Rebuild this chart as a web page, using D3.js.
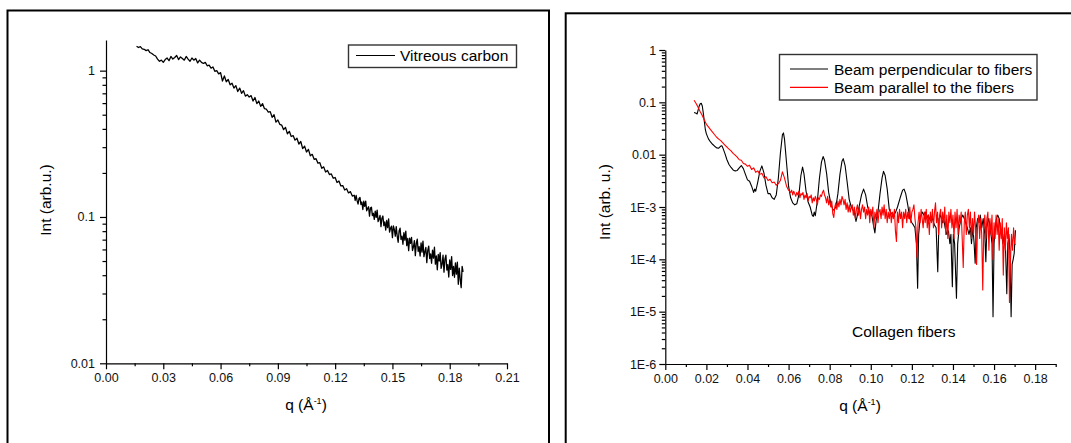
<!DOCTYPE html>
<html>
<head>
<meta charset="utf-8">
<script src="https://cdn.jsdelivr.net/npm/d3@7"></script>
<style>
  body { margin: 0; background: #fff; }
  svg { display: block; font-family: "Liberation Sans", Arial, sans-serif; }
</style>
</head>
<body>
<div id="chart"></div>
<script>
// ---- data: [q (1/A), intensity (arb. u.)] ----
const vitreousCarbon = [
  [0.016,1.47],[0.017,1.44],[0.018,1.46],[0.019,1.41],[0.020,1.40],[0.021,1.37],[0.022,1.39],[0.023,1.33],[0.024,1.31],[0.025,1.28],
  [0.026,1.26],[0.027,1.20],[0.028,1.16],[0.029,1.18],[0.030,1.14],[0.031,1.19],[0.032,1.22],[0.033,1.17],[0.034,1.25],[0.035,1.20],
  [0.036,1.23],[0.037,1.27],[0.038,1.19],[0.039,1.24],[0.040,1.21],[0.041,1.18],[0.042,1.25],[0.043,1.20],[0.044,1.16],[0.045,1.22],
  [0.046,1.18],[0.047,1.21],[0.048,1.13],[0.049,1.18],[0.050,1.14],[0.051,1.12],[0.052,1.14],[0.053,1.08],[0.054,1.09],[0.055,1.04],
  [0.056,1.06],[0.057,0.99],[0.058,1.00],[0.059,0.95],[0.060,0.97],[0.061,0.85],[0.062,0.92],[0.063,0.84],[0.064,0.87],[0.065,0.80],
  [0.066,0.82],[0.067,0.76],[0.068,0.79],[0.069,0.72],[0.070,0.76],[0.071,0.70],[0.072,0.73],[0.073,0.67],[0.074,0.685],[0.075,0.66],
  [0.076,0.675],[0.077,0.62],[0.078,0.655],[0.079,0.595],[0.080,0.62],[0.081,0.57],[0.082,0.595],[0.083,0.55],[0.084,0.545],[0.085,0.52],
  [0.086,0.525],[0.087,0.48],[0.088,0.50],[0.089,0.445],[0.090,0.46],[0.091,0.43],[0.092,0.425],[0.093,0.395],[0.094,0.41],[0.095,0.37],
  [0.096,0.385],[0.097,0.355],[0.098,0.36],[0.099,0.335],[0.100,0.345],[0.101,0.315],[0.102,0.328],[0.103,0.293],[0.104,0.305],[0.105,0.278],
  [0.106,0.29],[0.107,0.262],[0.108,0.268],[0.109,0.248],[0.110,0.25],[0.111,0.233],[0.112,0.235],[0.113,0.215],[0.114,0.22],[0.115,0.203],
  [0.116,0.208],[0.117,0.195],[0.118,0.197],[0.119,0.184],[0.120,0.186],[0.121,0.172],[0.122,0.176],[0.123,0.163],[0.124,0.164],[0.125,0.153],
  [0.126,0.156],[0.127,0.146],[0.128,0.149],[0.129,0.139],
  [0.1300,0.1408],[0.1305,0.1296],[0.1310,0.1402],[0.1315,0.1292],[0.1320,0.1224],[0.1325,0.1339],[0.1330,0.1361],[0.1335,0.1217],[0.1340,0.1265],[0.1345,0.1125],
  [0.1350,0.1281],[0.1355,0.1180],[0.1360,0.1283],[0.1365,0.1102],[0.1370,0.1144],[0.1375,0.1174],[0.1380,0.1012],[0.1385,0.1152],[0.1390,0.1168],[0.1395,0.1022],
  [0.1400,0.1060],[0.1405,0.0964],[0.1410,0.1098],[0.1415,0.0993],[0.1420,0.1113],[0.1425,0.0930],[0.1430,0.0968],[0.1435,0.1025],[0.1440,0.0858],[0.1445,0.0981],
  [0.1450,0.1015],[0.1455,0.0872],[0.1460,0.0925],[0.1465,0.0814],[0.1470,0.0946],[0.1475,0.0845],[0.1480,0.0972],[0.1485,0.0788],[0.1490,0.0836],[0.1495,0.0865],
  [0.1500,0.0722],[0.1505,0.0869],[0.1510,0.0820],[0.1515,0.0740],[0.1520,0.0859],[0.1525,0.0741],[0.1530,0.0672],[0.1535,0.0802],[0.1540,0.0839],[0.1545,0.0703],
  [0.1550,0.0740],[0.1555,0.0651],[0.1560,0.0782],[0.1565,0.0695],[0.1570,0.0800],[0.1575,0.0637],[0.1580,0.0713],[0.1585,0.0588],[0.1590,0.0717],[0.1595,0.0661],
  [0.1600,0.0726],[0.1605,0.0590],[0.1610,0.0624],[0.1615,0.0690],[0.1620,0.0544],[0.1625,0.0660],[0.1630,0.0706],[0.1635,0.0581],[0.1640,0.0626],[0.1645,0.0541],
  [0.1650,0.0665],[0.1655,0.0575],[0.1660,0.0684],[0.1665,0.0536],[0.1670,0.0578],[0.1675,0.0620],[0.1680,0.0487],[0.1685,0.0592],[0.1690,0.0633],[0.1695,0.0520],
  [0.1700,0.0560],[0.1705,0.0483],[0.1710,0.0594],[0.1715,0.0523],[0.1720,0.0621],[0.1725,0.0476],[0.1730,0.0541],[0.1735,0.0436],[0.1740,0.0556],[0.1745,0.0500],
  [0.1750,0.0571],[0.1755,0.0445],[0.1760,0.0477],[0.1765,0.0548],[0.1770,0.0420],[0.1775,0.0515],[0.1780,0.0549],[0.1785,0.0434],[0.1790,0.0473],[0.1795,0.0389],
  [0.1800,0.0508],[0.1805,0.0438],[0.1810,0.0536],[0.1815,0.0398],[0.1820,0.0459],[0.1825,0.0387],[0.1830,0.0486],[0.1835,0.0407],[0.1840,0.0491],[0.1845,0.0347],
  [0.1850,0.0447],[0.1855,0.0375],[0.1860,0.0329],[0.1865,0.0460],[0.1870,0.0422]
]

const beamPerpendicular = [
  [0.0140,0.064],[0.0150,0.062],[0.0155,0.060],[0.0160,0.072],[0.0165,0.085],[0.0170,0.094],[0.0175,0.096],[0.0180,0.085],[0.0185,0.062],[0.0190,0.043],
  [0.0195,0.030],[0.0200,0.025],[0.0210,0.020],[0.0220,0.0175],[0.0230,0.0158],[0.0240,0.0145],[0.0250,0.0135],[0.0260,0.0133],[0.0270,0.0146],[0.0275,0.0148],
  [0.0280,0.0135],[0.0290,0.0106],[0.0300,0.0080],[0.0310,0.0065],[0.0320,0.0057],[0.0330,0.0051],[0.0340,0.0049],[0.0350,0.0050],[0.0360,0.0056],[0.0370,0.0062],
  [0.0380,0.0054],[0.0390,0.0042],[0.0400,0.0033],[0.0410,0.0031],[0.0420,0.0025],[0.0430,0.0019],[0.0435,0.0022],[0.0440,0.0020],[0.0450,0.0030],[0.0460,0.0048],
  [0.0470,0.0061],[0.0480,0.0045],[0.0490,0.0026],[0.0500,0.0018],[0.0510,0.0018],[0.0520,0.0015],[0.0530,0.0014],[0.0540,0.0017],[0.0550,0.0035],[0.0560,0.0105],
  [0.0570,0.024],[0.0575,0.026],[0.0580,0.020],[0.0590,0.0070],[0.0600,0.0025],[0.0610,0.0015],[0.0620,0.0012],[0.0630,0.0011],[0.0640,0.00115],[0.0650,0.0017],
  [0.0660,0.0040],[0.0668,0.0058],[0.0675,0.0043],[0.0685,0.0020],[0.0695,0.00125],[0.0705,0.0010],[0.0715,0.0007],[0.0720,0.00066],[0.0725,0.0008],[0.0730,0.00068],
  [0.0740,0.0013],[0.0750,0.0035],[0.0760,0.0072],[0.0768,0.0092],[0.0775,0.0078],[0.0785,0.0044],[0.0795,0.0019],[0.0805,0.0012],[0.0815,0.0009],[0.0820,0.00087],
  [0.0830,0.0010],[0.0840,0.0018],[0.0850,0.0042],[0.0860,0.0075],[0.0866,0.0084],[0.0875,0.0062],[0.0885,0.0030],[0.0895,0.0014],[0.0905,0.0010],[0.0915,0.00085],
  [0.0920,0.0008],[0.0928,0.00053],[0.0935,0.0007],[0.0945,0.0011],[0.0955,0.0017],[0.0965,0.0022],[0.0975,0.0017],[0.0985,0.0010],[0.0995,0.00076],[0.1005,0.0007],
  [0.1013,0.00045],[0.1020,0.00032],[0.1027,0.0006],[0.1035,0.0008],[0.1045,0.0018],[0.1055,0.0036],[0.1062,0.0048],[0.1070,0.0040],[0.1080,0.0022],[0.1090,0.0009],
  [0.1100,0.00075],[0.1110,0.0007],[0.1120,0.00078],[0.1130,0.0010],[0.1143,0.0015],[0.1155,0.0021],[0.1162,0.0022],[0.1170,0.0018],[0.1180,0.0011],[0.1190,0.0006],
  [0.1200,0.0005],[0.1208,0.00045],[0.1215,0.0004],[0.1222,0.0002],[0.1228,0.000028],[0.1233,0.0003],[0.1240,0.0006],[0.1250,0.0008],[0.1258,0.0007],[0.1265,0.0008],
  [0.1272,0.0006],[0.1280,0.0007],[0.1290,0.00055],[0.1300,0.0006],[0.1310,0.00045],[0.1318,0.0004],[0.1326,0.000058],[0.1332,0.0006],[0.1340,0.0007],[0.1348,0.0005],
  [0.1355,0.0006],[0.1362,0.0004],[0.1370,0.0003],[0.1378,0.00035],[0.1385,0.0002],[0.1390,0.0003],[0.1397,0.00003],[0.1402,0.0003],[0.1408,0.0002],[0.1417,0.000018],
  [0.1423,0.0002],[0.1430,0.0004],[0.1440,0.0006],[0.1448,0.0007],[0.1455,0.0006],[0.1462,0.0005],[0.1470,0.0004],[0.1478,0.0003],[0.1485,0.0004],[0.1490,0.0002],
  [0.1497,0.0004],[0.1503,0.0002],[0.1508,0.000084],[0.1513,0.0004],[0.1520,0.0006],[0.1527,0.0005],[0.1533,0.0007],[0.1540,0.0004],[0.1547,0.0006],[0.1555,0.0003],
  [0.1560,0.00009],[0.1565,0.0004],[0.1572,0.0006],[0.1578,0.0005],[0.1585,0.0003],[0.1590,0.0002],[0.1595,0.000008],[0.1600,0.0002],[0.1605,0.0004],[0.1612,0.0006],
  [0.1618,0.0007],[0.1625,0.0006],[0.1630,0.0004],[0.1637,0.0003],[0.1643,0.0002],[0.1650,0.0003],[0.1656,0.00015],[0.1662,0.000022],[0.1667,0.0002],[0.1672,0.0003],
  [0.1677,0.00015],[0.1683,0.000008],[0.1688,0.00008],[0.1693,0.0001],[0.1698,0.00013],[0.1704,0.00036]
]

const beamParallel = [
  [0.014,0.110],[0.015,0.095],[0.016,0.080],[0.017,0.066],[0.018,0.056],[0.019,0.046],[0.020,0.038],[0.021,0.034],[0.022,0.030],[0.023,0.027],
  [0.024,0.024],[0.025,0.0215],[0.026,0.0198],[0.027,0.0185],[0.028,0.0168],[0.029,0.0152],[0.030,0.0140],[0.031,0.0128],[0.032,0.0118],[0.033,0.0106],
  [0.034,0.0098],[0.035,0.0090],[0.036,0.0080],[0.037,0.0078],[0.038,0.0068],[0.039,0.0066],[0.040,0.0060],[0.041,0.0063],[0.042,0.0052],[0.043,0.0056],
  [0.044,0.0046],[0.045,0.0049],[0.046,0.0042],[0.047,0.0044],[0.048,0.0036],[0.049,0.0038],[0.050,0.0032],[0.051,0.0034],[0.052,0.0029],[0.053,0.0030],
  [0.054,0.0026],[0.055,0.0028],[0.056,0.0032],[0.057,0.0047],[0.058,0.0036],[0.059,0.0025],[0.060,0.0021],
  [0.0605,0.0020],[0.0610,0.0019],[0.0615,0.0021],[0.0620,0.0017],[0.0625,0.0020],[0.0630,0.0018],[0.0635,0.0016],[0.0640,0.0019],[0.0645,0.0017],[0.0650,0.0020],
  [0.0655,0.0015],[0.0660,0.0018],[0.0665,0.0017],[0.0670,0.0019],[0.0675,0.0014],[0.0680,0.0017],[0.0685,0.0015],[0.0690,0.0018],[0.0695,0.0013],[0.0700,0.0016],
  [0.0705,0.0015],[0.0710,0.0017],[0.0715,0.0012],[0.0720,0.0015],[0.0725,0.0013],[0.0730,0.0016],[0.0735,0.0014],[0.0740,0.0011],[0.0745,0.0015],[0.0750,0.0014],
  [0.0755,0.0017],[0.0760,0.0016],[0.0765,0.0019],[0.0770,0.0021],[0.0775,0.0017],[0.0780,0.0015],[0.0785,0.0012],[0.0790,0.0016],[0.0795,0.0011],[0.0800,0.0014],
  [0.0805,0.0010],[0.0810,0.0013],[0.0815,0.00075],[0.0820,0.00063],[0.0825,0.0010],[0.0830,0.0012],[0.0835,0.0009],[0.0840,0.0013],[0.0845,0.0010],[0.0850,0.0014],
  [0.0855,0.0011],[0.0860,0.0016],[0.0865,0.0014],[0.0870,0.0011],[0.0875,0.0014],[0.0880,0.0009],[0.0885,0.0012],[0.0890,0.0008],[0.0895,0.0011],[0.0900,0.0008],
  [0.0905,0.0010],[0.0910,0.0011],[0.0915,0.0007],[0.0920,0.0010],[0.0925,0.0006],[0.0930,0.0009],[0.0935,0.0011],[0.0940,0.0007],[0.0945,0.0010],[0.0950,0.0006],
  [0.0955,0.0009],[0.0960,0.0011],[0.0965,0.0008],[0.0970,0.0010],[0.0975,0.0006],[0.0980,0.0009],[0.0985,0.0007],[0.0990,0.0010],[0.0995,0.0005],[0.1000,0.0009],
  [0.1005,0.0007],[0.1010,0.0010],[0.1015,0.0004],[0.1020,0.0008],[0.1025,0.0006],[0.1030,0.0009],[0.1035,0.0005],[0.1040,0.0008],[0.1045,0.0009],[0.1050,0.0006],
  [0.1055,0.0010],[0.1060,0.0007],[0.1065,0.0011],[0.1070,0.0006],[0.1075,0.0009],[0.1080,0.0005],[0.1085,0.0008],[0.1090,0.0006],[0.1095,0.0009],[0.1100,0.0005],
  [0.1105,0.0008],[0.1110,0.0006],[0.1115,0.0009],[0.1120,0.00035],[0.1125,0.00022],[0.1130,0.0008],[0.1135,0.0005],[0.1140,0.0009],[0.1145,0.0006],[0.1150,0.0008],
  [0.1155,0.0004],[0.1160,0.0008],[0.1165,0.0006],[0.1170,0.0009],[0.1175,0.0005],[0.1180,0.0008],[0.1185,0.0006],[0.1190,0.0010],[0.1195,0.0005],[0.1200,0.0008],
  [0.1205,0.0009],[0.1210,0.0011],[0.1215,0.0006],[0.1220,0.0004],[0.1225,0.00011],[0.1230,0.0005],[0.1235,0.0008],[0.1240,0.0005],[0.1245,0.0009],[0.1250,0.0006],
  [0.1255,0.0004],[0.1260,0.0008],[0.1265,0.0005],[0.1270,0.0009],[0.1275,0.0004],[0.1280,0.0007],[0.1285,0.0003],[0.1290,0.0008],[0.1295,0.0005],[0.1300,0.0009],
  [0.1305,0.0004],[0.1310,0.0008],[0.1315,0.0012],[0.1320,0.0005],[0.1325,0.0008],[0.1330,0.0003],[0.1335,0.0007],[0.1340,0.0009],[0.1345,0.0004],[0.1350,0.0008],
  [0.1355,0.0005],[0.1360,0.0010],[0.1365,0.0003],[0.1370,0.0007],[0.1375,0.00025],[0.1380,0.0008],[0.1385,0.0005],[0.1390,0.0009],[0.1395,0.0004],[0.1400,0.0007],
  [0.1405,0.00025],[0.1410,0.0008],[0.1415,0.0004],[0.1420,0.0009],[0.1425,0.0003],[0.1430,0.0007],[0.1435,0.0005],[0.1440,0.0008],[0.1445,0.00025],[0.1450,0.00007],
  [0.1455,0.0005],[0.1460,0.0008],[0.1465,0.0003],[0.1470,0.0007],[0.1475,0.0009],[0.1480,0.0004],[0.1485,0.0008],[0.1490,0.00025],[0.1495,0.0006],[0.1500,0.0003],
  [0.1505,0.0008],[0.1510,0.0004],[0.1515,0.00008],[0.1520,0.0005],[0.1525,0.0007],[0.1530,0.00025],[0.1535,0.0006],[0.1540,0.0003],[0.1545,0.000026],[0.1550,0.0004],
  [0.1555,0.0007],[0.1560,0.00025],[0.1565,0.0006],[0.1570,0.0008],[0.1575,0.00015],[0.1580,0.0006],[0.1585,0.0003],[0.1590,0.0007],[0.1595,0.0001],[0.1600,0.0005],
  [0.1605,0.00025],[0.1610,0.0007],[0.1615,0.0003],[0.1620,0.0006],[0.1625,0.00015],[0.1630,0.0005],[0.1635,0.00025],[0.1640,0.0006],[0.1645,0.00005],[0.1650,0.0004],
  [0.1655,0.00015],[0.1660,0.0005],[0.1665,0.00025],[0.1670,0.0004],[0.1675,0.000015],[0.1680,0.0001],[0.1685,0.0003],[0.1690,0.00015],[0.1695,0.0004],[0.1700,0.0002],
  [0.1705,0.00019]
]

// ---- axis ticks ----
const leftXTicks = [0, 0.03, 0.06, 0.09, 0.12, 0.15, 0.18, 0.21]
const leftXLabels = ["0.00", "0.03", "0.06", "0.09", "0.12", "0.15", "0.18", "0.21"]
const leftXMinor = [0.015, 0.045, 0.075, 0.105, 0.135, 0.165, 0.195]
const leftYTicks = [0.01, 0.1, 1]
const leftYLabels = ["0.01", "0.1", "1"]

const rightXTicks = [0, 0.02, 0.04, 0.06, 0.08, 0.10, 0.12, 0.14, 0.16, 0.18]
const rightXLabels = ["0.00", "0.02", "0.04", "0.06", "0.08", "0.10", "0.12", "0.14", "0.16", "0.18"]
const rightXMinor = [0.01, 0.03, 0.05, 0.07, 0.09, 0.11, 0.13, 0.15, 0.17, 0.19]
const rightYTicks = [1e-6, 1e-5, 1e-4, 1e-3, 0.01, 0.1, 1]
const rightYLabels = ["1E-6", "1E-5", "1E-4", "1E-3", "0.01", "0.1", "1"]

const FONT = "15.5px"
const TICK_FONT = "12.5px"

class LogPanel {
  constructor(_svg, _opts) {
    this.svg = _svg
    this.opts = _opts
    this.initVis()
  }

  initVis() {
    const vis = this
    const o = vis.opts

    vis.x = d3.scaleLinear().domain(o.xDomain).range([o.left, o.right])
    vis.y = d3.scaleLog().domain(o.yDomain).range([o.bottom, o.top])

    // panel frame (bottom edge falls outside the picture)
    vis.svg.append("rect")
      .attr("x", o.frame[0]).attr("y", o.frame[1])
      .attr("width", o.frame[2]).attr("height", o.frame[3])
      .attr("fill", "none").attr("stroke", "#000").attr("stroke-width", 2)

    // minor log ticks 2..9 of every decade
    const minorY = []
    const lo = o.yDomain[0], hi = o.yDomain[1]
    for (let e = Math.floor(Math.log10(lo)); e <= Math.ceil(Math.log10(hi)); e++) {
      for (let k = 2; k <= 9; k++) {
        const v = k * Math.pow(10, e)
        if (v > lo && v < hi) minorY.push(v)
      }
    }

    vis.svg.append("g")
      .attr("transform", `translate(0, ${o.bottom})`)
      .call(d3.axisBottom(vis.x).tickValues(o.xMinor).tickSize(3).tickSizeOuter(0).tickFormat(""))
      .call(g => g.select(".domain").remove())

    vis.svg.append("g")
      .attr("transform", `translate(${o.left}, 0)`)
      .call(d3.axisLeft(vis.y).tickValues(minorY).tickSize(3.5).tickSizeOuter(0).tickFormat(""))
      .call(g => g.select(".domain").remove())

    vis.xAxis = vis.svg.append("g")
      .attr("transform", `translate(0, ${o.bottom})`)
      .call(d3.axisBottom(vis.x).tickValues(o.xTicks).tickSize(6).tickPadding(4).tickSizeOuter(0)
        .tickFormat((d, i) => o.xLabels[i]))

    vis.yAxis = vis.svg.append("g")
      .attr("transform", `translate(${o.left}, 0)`)
      .call(d3.axisLeft(vis.y).tickValues(o.yTicks).tickSize(6).tickPadding(o.yPad).tickSizeOuter(0)
        .tickFormat((d, i) => o.yLabels[i]))

    vis.svg.selectAll(".tick text")
      .attr("font-size", TICK_FONT)
      .attr("font-family", "Liberation Sans, Arial, sans-serif")
      .attr("fill", "#111")
    vis.svg.selectAll(".domain, .tick line").attr("stroke-width", 1.2)

    // axis titles
    vis.svg.append("text")
      .attr("transform", `translate(${o.yLabelPos[0]}, ${o.yLabelPos[1]}) rotate(-90)`)
      .attr("text-anchor", "middle")
      .attr("dy", "0.35em")
      .attr("font-size", FONT)
      .text(o.yTitle)

    const xt = vis.svg.append("text")
      .attr("x", o.xLabelPos[0]).attr("y", o.xLabelPos[1])
      .attr("text-anchor", "middle")
      .attr("font-size", FONT)
    xt.append("tspan").text("q (\u00C5")
    xt.append("tspan").attr("dy", -6).attr("font-size", "9px").text("-1")
    xt.append("tspan").attr("dy", 6).text(")")

    // curves
    const line = d3.line()
      .x(d => vis.x(d[0]))
      .y(d => vis.y(d[1]))

    o.series.forEach(s => {
      vis.svg.append("path")
        .datum(s.data)
        .attr("d", line)
        .attr("fill", "none")
        .attr("stroke", s.color)
        .attr("stroke-width", s.width || 1.1)
        .attr("stroke-linejoin", "round")
    })

    // legend
    const lg = o.legend
    vis.svg.append("rect")
      .attr("x", lg.box[0]).attr("y", lg.box[1])
      .attr("width", lg.box[2]).attr("height", lg.box[3])
      .attr("fill", "#fff").attr("stroke", "#333").attr("stroke-width", 1.4)

    o.series.forEach((s, i) => {
      const yy = lg.firstY + i * lg.step
      vis.svg.append("line")
        .attr("x1", lg.lineX[0]).attr("x2", lg.lineX[1])
        .attr("y1", yy).attr("y2", yy)
        .attr("stroke", s.color).attr("stroke-width", 1.2)
      vis.svg.append("text")
        .attr("x", lg.textX).attr("y", yy)
        .attr("dy", "0.36em")
        .attr("font-size", FONT)
        .text(s.name)
    })
  }
}

const svg = d3.select("#chart").append("svg")
  .attr("width", 1071)
  .attr("height", 443)

new LogPanel(svg, {
  frame: [7.5, 10.5, 541.5, 450],
  xDomain: [0, 0.21], yDomain: [0.01, 1.62],
  left: 106, right: 507, top: 40, bottom: 363.3,
  xTicks: leftXTicks, xLabels: leftXLabels, xMinor: leftXMinor,
  yTicks: leftYTicks, yLabels: leftYLabels, yPad: 5,
  yTitle: "Int (arb.u.)", yLabelPos: [46, 200], xLabelPos: [306, 410],
  series: [{ name: "Vitreous carbon", color: "#000", data: vitreousCarbon, width: 1.3 }],
  legend: { box: [348.5, 45, 168, 22.5], lineX: [356, 395], textX: 400, firstY: 55.5, step: 18 }
})

new LogPanel(svg, {
  frame: [565.7, 13.3, 520, 450],
  xDomain: [0, 0.19], yDomain: [1e-6, 1],
  left: 665.3, right: 1055.7, top: 50, bottom: 364,
  xTicks: rightXTicks, xLabels: rightXLabels, xMinor: rightXMinor,
  yTicks: rightYTicks, yLabels: rightYLabels, yPad: 3,
  yTitle: "Int (arb. u.)", yLabelPos: [605, 202], xLabelPos: [860, 411],
  series: [
    { name: "Beam perpendicular to fibers", color: "#000", data: beamPerpendicular },
    { name: "Beam parallel to the fibers", color: "#f00", data: beamParallel }
  ],
  legend: { box: [779.5, 54.5, 257.5, 45.5], lineX: [790, 828], textX: 834, firstY: 69, step: 18.3 }
})

svg.append("text")
  .attr("x", 852).attr("y", 337)
  .attr("font-size", FONT)
  .text("Collagen fibers")
</script>
</body>
</html>
